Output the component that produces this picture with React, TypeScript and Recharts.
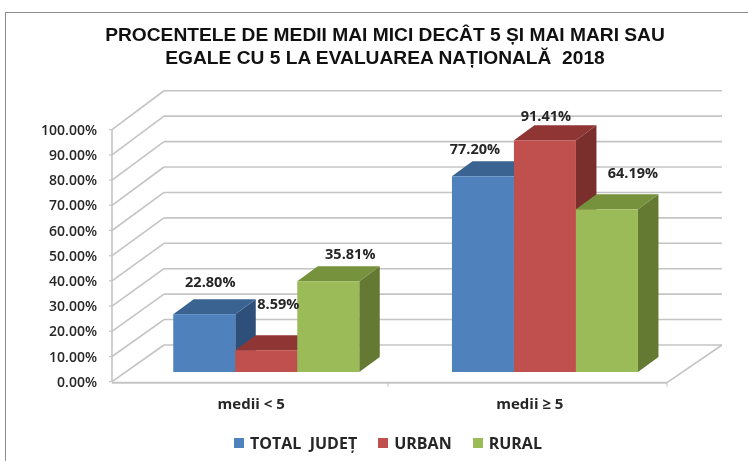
import React from 'react';
import { BarChart, Bar, XAxis, YAxis, Legend, LabelList, CartesianGrid } from 'recharts';

const categories = ['medii < 5', 'medii ≥ 5'];
const totalJudet = [22.8, 77.2];
const urban = [8.59, 91.41];
const rural = [35.81, 64.19];
const yTicks = [0, 10, 20, 30, 40, 50, 60, 70, 80, 90, 100];

const seriesNames = ['TOTAL  JUDEȚ', 'URBAN', 'RURAL'];
const data = categories.map((name, i) => ({
  name,
  total: totalJudet[i],
  urban: urban[i],
  rural: rural[i],
}));

// Presentation only
const W = 748;
const H = 461;
const Y_AXIS_W = 40;
const M = { top: 118.5, right: 63.8, bottom: 59, left: 126.8 - Y_AXIS_W };
const X_AXIS_H = 30;
const FLOOR_Y = H - M.bottom - X_AXIS_H;
const DX = 20.5;
const DY = 15;
const GRID = '#c4c4c4';
const FONT = '"Open Sans", sans-serif';
const TEXT = '#262626';

const FRONT_L = 112;
const FRONT_R = 667;
const BACK_L = 164;
const BACK_R = 722;
const frontY = (y: number) => 381.7 - (FLOOR_Y - y) * 0.994;
const backY = (y: number) => 345 - (FLOOR_Y - y) * 1.003;

const labelNudge: Record<string, [number, number][]> = {
  total: [[6, -32], [-8, -28]],
  urban: [[12, -46], [1, -24]],
  rural: [[22, -27], [26, -36]],
};

const palette = {
  total: { front: '#4f81bd', top: '#3a6391', side: '#2f4f7b' },
  urban: { front: '#c0504d', top: '#8f3634', side: '#7a2f2d' },
  rural: { front: '#9bbb59', top: '#76923c', side: '#647a33' },
};

function Box3D(props: any) {
  const { x, y, width, height, colors } = props;
  const r = x + width;
  const b = y + height;
  return (
    <g>
      <polygon points={`${r},${y} ${r + DX},${y - DY} ${r + DX},${b - DY} ${r},${b}`} fill={colors.side} />
      <polygon points={`${x},${y} ${x + DX},${y - DY} ${r + DX},${y - DY} ${r},${y}`} fill={colors.top} />
      <rect x={x} y={y} width={width} height={height} fill={colors.front} />
    </g>
  );
}

function WallLine(props: any) {
  const y = props.y1 as number;
  const fy = frontY(y);
  const by = backY(y);
  const isFloor = Math.abs(y - FLOOR_Y) < 1;
  const isTop = Math.abs(y - M.top) < 1;
  return (
    <g>
      <line x1={FRONT_L} y1={fy} x2={BACK_L} y2={by} stroke={GRID} strokeWidth={1.6} />
      <line x1={BACK_L} y1={by} x2={BACK_R} y2={by} stroke={GRID} strokeWidth={1.6} />
      <line x1={FRONT_L - 3} y1={fy} x2={FRONT_L} y2={fy} stroke={GRID} strokeWidth={1.2} />
      {!isTop && <line x1={FRONT_L} y1={fy} x2={FRONT_L} y2={fy - 25.2} stroke={GRID} strokeWidth={1.6} />}
      {isFloor && (
        <g>
          <line x1={FRONT_L} y1={fy + 1} x2={FRONT_R} y2={fy + 1} stroke={GRID} strokeWidth={2} />
          <line x1={FRONT_R} y1={fy + 1} x2={BACK_R} y2={by} stroke={GRID} strokeWidth={1.6} />
          <line x1={388} y1={fy + 1} x2={388} y2={fy + 5} stroke={GRID} strokeWidth={1} />
          <line x1={FRONT_R} y1={fy + 1} x2={FRONT_R} y2={fy + 5} stroke={GRID} strokeWidth={1} />
        </g>
      )}
    </g>
  );
}

function ValueTick(props: any) {
  const { y, payload } = props;
  return (
    <text x={97} y={frontY(y)} dy="0.36em" textAnchor="end" fontFamily={FONT} fontSize={14} fontWeight={600} fill={TEXT}>
      {(payload.value as number).toFixed(2)}%
    </text>
  );
}

function CategoryTick(props: any) {
  const { x, payload } = props;
  return (
    <text x={x - 15} y={404} dy="0.36em" textAnchor="middle" fontFamily={FONT} fontSize={15} fontWeight={700} fill={TEXT}>
      {payload.value}
    </text>
  );
}

const makeLabel = (key: keyof typeof labelNudge) => (props: any) => {
  const { x, y, width, value, index } = props;
  const [dx, dy] = labelNudge[key][index];
  return (
    <text x={x + width / 2 + dx} y={y + dy} dy="0.36em" textAnchor="middle" fontFamily={FONT} fontSize={14.5} fontWeight={700} fill={TEXT}>
      {Number(value).toFixed(2)}%
    </text>
  );
};

function LegendContent({ payload }: any) {
  return (
    <div style={{ display: 'flex', justifyContent: 'center', gap: 21, fontFamily: FONT, fontSize: 16, fontWeight: 700, color: TEXT, lineHeight: '18px', whiteSpace: 'pre' }}>
      {(payload || []).map((e: any) => (
        <div key={e.value} style={{ display: 'flex', alignItems: 'center', gap: 6 }}>
          <span style={{ display: 'inline-block', width: 10, height: 10, background: e.color }} />
          <span>{e.value}</span>
        </div>
      ))}
    </div>
  );
}

export default function App() {
  const series = [
    { key: 'total', name: seriesNames[0], colors: palette.total },
    { key: 'urban', name: seriesNames[1], colors: palette.urban },
    { key: 'rural', name: seriesNames[2], colors: palette.rural },
  ] as const;
  return (
    <div style={{ position: 'absolute', left: 0, top: 0, width: W, height: H, overflow: 'hidden', background: '#fff', filter: 'blur(0.45px)' }}>
      <div style={{ position: 'absolute', left: 5, top: 12, width: W, height: H, borderLeft: '1.5px solid #8c8c8c', borderTop: '1.5px solid #8c8c8c' }} />
      <div style={{ position: 'absolute', left: 0, top: 23, width: 770, textAlign: 'center', fontFamily: '"Liberation Sans", Arial, sans-serif', fontWeight: 700, fontSize: 19.2, lineHeight: '23px', color: '#111' }}>
        PROCENTELE DE MEDII MAI MICI DECÂT 5 ȘI MAI MARI SAU
        <br />
        EGALE CU 5 LA EVALUAREA NAȚIONALĂ&nbsp; 2018
      </div>
      <BarChart width={W} height={H} data={data} margin={M} barCategoryGap="16.67%" barGap={0} style={{ position: 'absolute', left: 0, top: 0 }}>
        <CartesianGrid vertical={false} syncWithTicks horizontal={(p: any) => <WallLine key={p.key ?? p.y1} {...p} />} />
        <YAxis width={Y_AXIS_W} domain={[0, 100]} ticks={yTicks} interval={0} axisLine={false} tickLine={false} tick={<ValueTick />} />
        <XAxis dataKey="name" height={X_AXIS_H} axisLine={false} tickLine={false} tick={<CategoryTick />} />
        <Legend
          layout="horizontal"
          verticalAlign="middle"
          align="center"
          itemSorter={null}
          wrapperStyle={{ left: 0, top: 434, width: W + 28 }}
          content={<LegendContent />}
        />
        {series.map((s) => (
          <Bar
            key={s.key}
            dataKey={s.key}
            name={s.name}
            fill={s.colors.front}
            isAnimationActive={false}
            shape={(p: any) => <Box3D {...p} colors={s.colors} />}
          >
            <LabelList dataKey={s.key} content={makeLabel(s.key)} />
          </Bar>
        ))}
      </BarChart>
    </div>
  );
}
